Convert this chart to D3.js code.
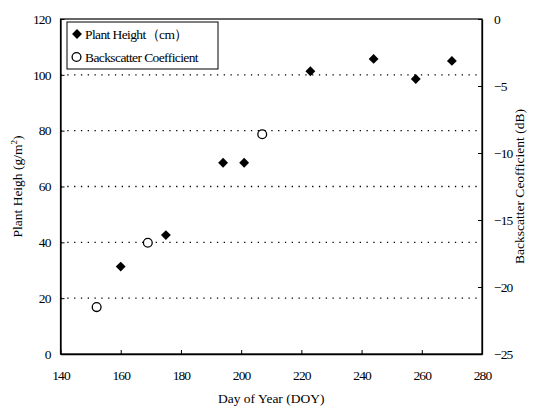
<!DOCTYPE html>
<html>
<head>
<meta charset="utf-8">
<script src="https://cdn.jsdelivr.net/npm/d3@7"></script>
<style>
  body { margin: 0; background: #fff; }
</style>
</head>
<body>
<div id="chart"></div>
<script>
// plant height (left axis)
const heightDays = [160, 175, 194, 201, 223, 244, 258, 270];
const heightValues = [31.3, 42.6, 68.5, 68.5, 101.3, 105.7, 98.5, 105];
// backscatter (right axis, dB)
const bsDays = [152, 169, 207];
const bsValues = [-21.5, -16.7, -8.6];

const xTicks = [140, 160, 180, 200, 220, 240, 260, 280];
const yLeftTicks = [0, 20, 40, 60, 80, 100, 120];
const yRightTicks = [0, -5, -10, -15, -20, -25];
const gridValues = [20, 40, 60, 80, 100];

const FONT = "'Liberation Serif', 'Times New Roman', 'DejaVu Serif', serif";
const width = 536, height = 408;
const margin = {top: 19, right: 54, bottom: 54, left: 60.5};

const svg = d3.select("#chart").append("svg")
    .attr("width", width)
    .attr("height", height);

const x = d3.scaleLinear().domain([140, 280]).range([margin.left, width - margin.right]);
const yL = d3.scaleLinear().domain([0, 120]).range([height - margin.bottom, margin.top]);
const yR = d3.scaleLinear().domain([-25, 0]).range([height - margin.bottom, margin.top]);

// dotted gridlines
svg.append("g")
    .selectAll("line")
    .data(gridValues)
    .join("line")
    .attr("x1", margin.left)
    .attr("x2", width - margin.right)
    .attr("y1", d => yL(d))
    .attr("y2", d => yL(d))
    .attr("stroke", "#000")
    .attr("stroke-width", 1.3)
    .attr("stroke-dasharray", "1.3,5.5");

// frame
svg.append("rect")
    .attr("x", margin.left)
    .attr("y", margin.top)
    .attr("width", width - margin.right - margin.left)
    .attr("height", height - margin.bottom - margin.top)
    .attr("fill", "none")
    .attr("stroke", "#000")
    .attr("stroke-width", 1.2);

// axes (ticks pointing inward)
const xAxis = svg.append("g")
    .attr("transform", "translate(0," + (height - margin.bottom) + ")")
    .call(d3.axisBottom(x).tickValues(xTicks).tickSizeInner(-4).tickSizeOuter(0).tickPadding(16));
const yAxisL = svg.append("g")
    .attr("transform", "translate(" + margin.left + ",0)")
    .call(d3.axisLeft(yL).tickValues(yLeftTicks).tickSizeInner(-4).tickSizeOuter(0).tickPadding(10));
const yAxisR = svg.append("g")
    .attr("transform", "translate(" + (width - margin.right) + ",0)")
    .call(d3.axisRight(yR).tickValues(yRightTicks).tickSizeInner(-4).tickSizeOuter(0).tickPadding(12));

[xAxis, yAxisL, yAxisR].forEach(a => {
    a.attr("font-family", null);
    a.select(".domain").attr("stroke", "#000").attr("stroke-width", 1.3);
    a.selectAll(".tick line").attr("stroke", "#000");
    a.selectAll(".tick text")
        .style("font-family", FONT)
        .style("font-size", "13.5px")
        .style("letter-spacing", "-0.9px")
        .attr("fill", "#000");
});

// axis titles
svg.append("text")
    .attr("x", (margin.left + width - margin.right) / 2)
    .attr("y", 403)
    .attr("text-anchor", "middle")
    .style("font-family", FONT)
    .style("font-size", "13.5px")
    .text("Day of Year (DOY)");

const leftTitle = svg.append("text")
    .attr("transform", "translate(22," + ((margin.top + height - margin.bottom) / 2) + ") rotate(-90)")
    .attr("text-anchor", "middle")
    .style("font-family", FONT)
    .style("font-size", "13.5px");
leftTitle.append("tspan").text("Plant Heigh (g/m");
leftTitle.append("tspan").attr("baseline-shift", "super").style("font-size", "9px").text("2");
leftTitle.append("tspan").text(")");

svg.append("text")
    .attr("transform", "translate(524," + ((margin.top + height - margin.bottom) / 2) + ") rotate(-90)")
    .attr("text-anchor", "middle")
    .style("font-family", FONT)
    .style("font-size", "13.5px")
    .text("Backscatter Ceofficient (dB)");

// plant height diamonds
const diamond = d3.symbol().type(d3.symbolDiamond2).size(62);
svg.append("g")
    .selectAll("path")
    .data(heightDays.map((d, i) => [d, heightValues[i]]))
    .join("path")
    .attr("transform", d => "translate(" + x(d[0]) + "," + yL(d[1]) + ")")
    .attr("d", diamond)
    .attr("fill", "#000");

// backscatter circles
svg.append("g")
    .selectAll("circle")
    .data(bsDays.map((d, i) => [d, bsValues[i]]))
    .join("circle")
    .attr("cx", d => x(d[0]))
    .attr("cy", d => yR(d[1]))
    .attr("r", 4.4)
    .attr("fill", "#fff")
    .attr("stroke", "#000")
    .attr("stroke-width", 1.3);

// legend
const legend = svg.append("g").attr("transform", "translate(67,22)");
legend.append("rect")
    .attr("width", 151)
    .attr("height", 47)
    .attr("fill", "#fff")
    .attr("stroke", "#000")
    .attr("stroke-width", 1);
legend.append("path")
    .attr("transform", "translate(10,12)")
    .attr("d", diamond)
    .attr("fill", "#000");
legend.append("text")
    .attr("x", 18)
    .attr("y", 16.5)
    .style("font-family", FONT)
    .style("font-size", "13.5px")
    .style("letter-spacing", "-0.6px")
    .text("Plant Height（cm）");
legend.append("circle")
    .attr("cx", 9.5)
    .attr("cy", 35)
    .attr("r", 4.4)
    .attr("fill", "#fff")
    .attr("stroke", "#000")
    .attr("stroke-width", 1.3);
legend.append("text")
    .attr("x", 18)
    .attr("y", 39.5)
    .style("font-family", FONT)
    .style("font-size", "13.5px")
    .style("letter-spacing", "-0.6px")
    .text("Backscatter Coefficient");
</script>
</body>
</html>
